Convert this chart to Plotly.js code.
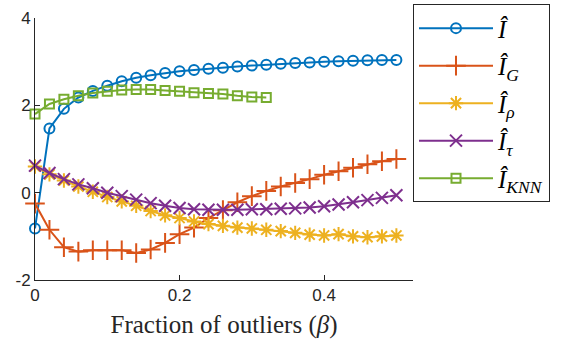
<!DOCTYPE html>
<html>
<head>
<meta charset="utf-8">
<script src="https://cdn.plot.ly/plotly-3.0.1.min.js"></script>
<style>html,body{margin:0;padding:0;background:#fff;}#chart{width:573px;height:342px;}</style>
</head>
<body>
<div id="chart"></div>
<script>
// Fraction of outliers (beta)
const xAll = [0,0.02,0.04,0.06,0.08,0.10,0.12,0.14,0.16,0.18,0.20,0.22,0.24,0.26,0.28,0.30,0.32,0.34,0.36,0.38,0.40,0.42,0.44,0.46,0.48,0.50];
const xKNN = [0,0.02,0.04,0.06,0.08,0.10,0.12,0.14,0.16,0.18,0.20,0.22,0.24,0.26,0.28,0.30,0.32];

const I_hat = [-0.82,1.47,1.92,2.18,2.33,2.45,2.55,2.63,2.69,2.74,2.78,2.81,2.84,2.86,2.89,2.91,2.93,2.95,2.97,2.98,3.00,3.01,3.02,3.03,3.04,3.04];
const I_G   = [-0.25,-0.85,-1.25,-1.35,-1.32,-1.32,-1.32,-1.38,-1.30,-1.15,-0.95,-0.80,-0.58,-0.40,-0.22,-0.08,0.04,0.14,0.22,0.31,0.41,0.49,0.57,0.65,0.72,0.77];
const I_rho = [0.60,0.42,0.28,0.14,0.02,-0.10,-0.20,-0.30,-0.42,-0.52,-0.58,-0.66,-0.72,-0.76,-0.80,-0.82,-0.85,-0.88,-0.92,-0.96,-0.98,-0.95,-1.00,-1.02,-1.00,-0.98];
const I_tau = [0.62,0.45,0.31,0.19,0.10,0.00,-0.08,-0.16,-0.24,-0.30,-0.35,-0.38,-0.39,-0.39,-0.39,-0.38,-0.38,-0.37,-0.36,-0.34,-0.31,-0.27,-0.22,-0.17,-0.12,-0.06];
const I_KNN = [1.80,2.03,2.14,2.22,2.28,2.32,2.35,2.36,2.36,2.34,2.32,2.29,2.27,2.26,2.22,2.19,2.18];

const names = ['<i>Î</i>','<i>Î</i><sub><i>G</i></sub>','<i>Î</i><sub><i>ρ</i></sub>','<i>Î</i><sub><i>τ</i></sub>','<i>Î</i><sub><i>KNN</i></sub>'];
const colors = ['#0072BD','#D95319','#EDB120','#7E2F8E','#77AC30'];

function tr(x, y, i, sym, size) {
  return {
    x: x, y: y, name: names[i], type: 'scatter', mode: 'lines+markers',
    legendgroup: 'g' + i, cliponaxis: false,
    line: {color: colors[i], width: 2},
    marker: {symbol: sym, size: size, color: colors[i], line: {color: colors[i], width: 2}}
  };
}

const data = [
  tr(xAll, I_hat, 0, 'circle-open', 10),
  tr(xAll, I_G, 1, 'cross-thin-open', 14),
  tr(xAll, I_rho, 2, 'asterisk-open', 12),
  tr(xAll, I_tau, 3, 'x-thin-open', 12),
  tr(xKNN, I_KNN, 4, 'square-open', 9)
];

const layout = {
  width: 573, height: 342,
  margin: {l: 35, r: 160, t: 17.5, b: 62, autoexpand: false},
  paper_bgcolor: '#fff', plot_bgcolor: '#fff',
  showlegend: true,
  xaxis: {
    range: [0, 0.523], tickvals: [0, 0.2, 0.4], ticktext: ['0','0.2','0.4'],
    showline: true, linecolor: '#262626', linewidth: 1, mirror: false,
    ticks: 'inside', ticklen: 5, tickcolor: '#262626', showgrid: false, zeroline: false,
    tickfont: {family: 'Liberation Sans, Arial, sans-serif', size: 17, color: '#262626'},
    title: {text: 'Fraction of outliers (<i>β</i>)', font: {family: 'Liberation Serif, serif', size: 25, color: '#262626'}, standoff: 11}
  },
  yaxis: {
    range: [-2, 4], tickvals: [-2, 0, 2, 4], ticktext: ['-2','0','2','4'],
    showline: true, linecolor: '#262626', linewidth: 1, mirror: false,
    ticks: 'inside', ticklen: 5, tickcolor: '#262626', showgrid: false, zeroline: false,
    tickfont: {family: 'Liberation Sans, Arial, sans-serif', size: 17, color: '#262626'}
  },
  legend: {
    x: 1, xanchor: 'left', y: 1.052, yanchor: 'top',
    bgcolor: '#fff', bordercolor: '#262626', borderwidth: 1,
    font: {family: 'Liberation Serif, serif', size: 25, color: '#000'},
    itemwidth: 74, tracegroupgap: 2, maxheight: 330
  }
};

Plotly.newPlot('chart', data, layout, {displayModeBar: false, staticPlot: true});
</script>
</body>
</html>
